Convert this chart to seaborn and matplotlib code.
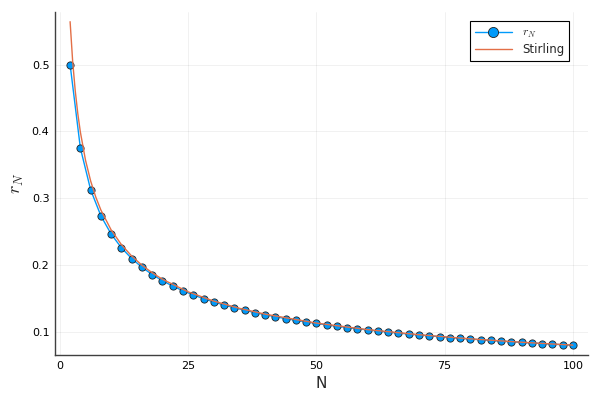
import matplotlib
matplotlib.use("Agg")
import matplotlib.pyplot as plt
import seaborn as sns
import pandas as pd

# r_N = probability of returning to origin after N steps
n_points = list(range(2, 101, 2))
r_values = [0.5000, 0.3750, 0.3125, 0.2734, 0.2461, 0.2256, 0.2095, 0.1964, 0.1855, 0.1762,
            0.1682, 0.1612, 0.1550, 0.1494, 0.1445, 0.1399, 0.1358, 0.1321, 0.1286, 0.1254,
            0.1224, 0.1196, 0.1170, 0.1146, 0.1123, 0.1101, 0.1081, 0.1061, 0.1043, 0.1026,
            0.1009, 0.0993, 0.0978, 0.0964, 0.0950, 0.0937, 0.0924, 0.0912, 0.0900, 0.0889,
            0.0878, 0.0868, 0.0858, 0.0848, 0.0839, 0.0830, 0.0821, 0.0812, 0.0804, 0.0796]

# Stirling approximation curve
stirling_n = [2, 2.5, 3, 3.5, 4, 5, 6, 7, 8, 10, 12, 14, 16, 18, 20, 25, 30, 35, 40,
              50, 60, 70, 80, 90, 100]
stirling_values = [0.5642, 0.5046, 0.4607, 0.4265, 0.3989, 0.3568, 0.3257, 0.3016, 0.2821,
                   0.2523, 0.2303, 0.2132, 0.1995, 0.1881, 0.1784, 0.1596, 0.1457, 0.1349,
                   0.1262, 0.1128, 0.1030, 0.0954, 0.0892, 0.0841, 0.0798]

x_ticks = [0, 25, 50, 75, 100]
y_ticks = [0.1, 0.2, 0.3, 0.4, 0.5]

df_r = pd.DataFrame({"N": n_points, "r": r_values})
df_s = pd.DataFrame({"N": stirling_n, "r": stirling_values})

sns.set_style("white")
plt.rcParams["font.family"] = ["DejaVu Sans"]
plt.rcParams["mathtext.fontset"] = "cm"

fig = plt.figure(figsize=(6, 4), dpi=100)
ax = fig.add_axes([0.0917, 0.1125, 0.8883, 0.8575])

blue = "#009AFA"
orange = "#E36F47"

sns.lineplot(data=df_r, x="N", y="r", ax=ax, color=blue, linewidth=1,
             marker="o", markersize=5.2, markeredgecolor="#222222",
             markeredgewidth=0.6, label="$r_N$")
sns.lineplot(data=df_s, x="N", y="r", ax=ax, color=orange, linewidth=1,
             label="Stirling")

ax.set_xlim(-0.94, 102.94)
ax.set_ylim(0.0650, 0.5787)
ax.set_xticks(x_ticks)
ax.set_yticks(y_ticks)
ax.set_xticklabels([str(t) for t in x_ticks])
ax.set_yticklabels([str(t) for t in y_ticks])
ax.tick_params(labelsize=8, length=3, direction="in", color="black",
               colors="black", pad=4)

ax.grid(True, color="black", alpha=0.08, linewidth=0.5)
for side in ["top", "right"]:
    ax.spines[side].set_visible(False)
for side in ["left", "bottom"]:
    ax.spines[side].set_color("#404040")
    ax.spines[side].set_linewidth(1)

ax.set_xlabel("N", fontsize=11)
ax.set_ylabel("$r_N$", fontsize=13)

leg = ax.legend(loc="upper right", bbox_to_anchor=(0.975, 0.99), fontsize=8.5,
                frameon=True, fancybox=False, framealpha=1, edgecolor="black",
                borderpad=0.4, labelspacing=0.25, handlelength=3.2, markerscale=1.4)
leg.get_frame().set_linewidth(0.8)

fig.savefig("out.png", dpi=100)
